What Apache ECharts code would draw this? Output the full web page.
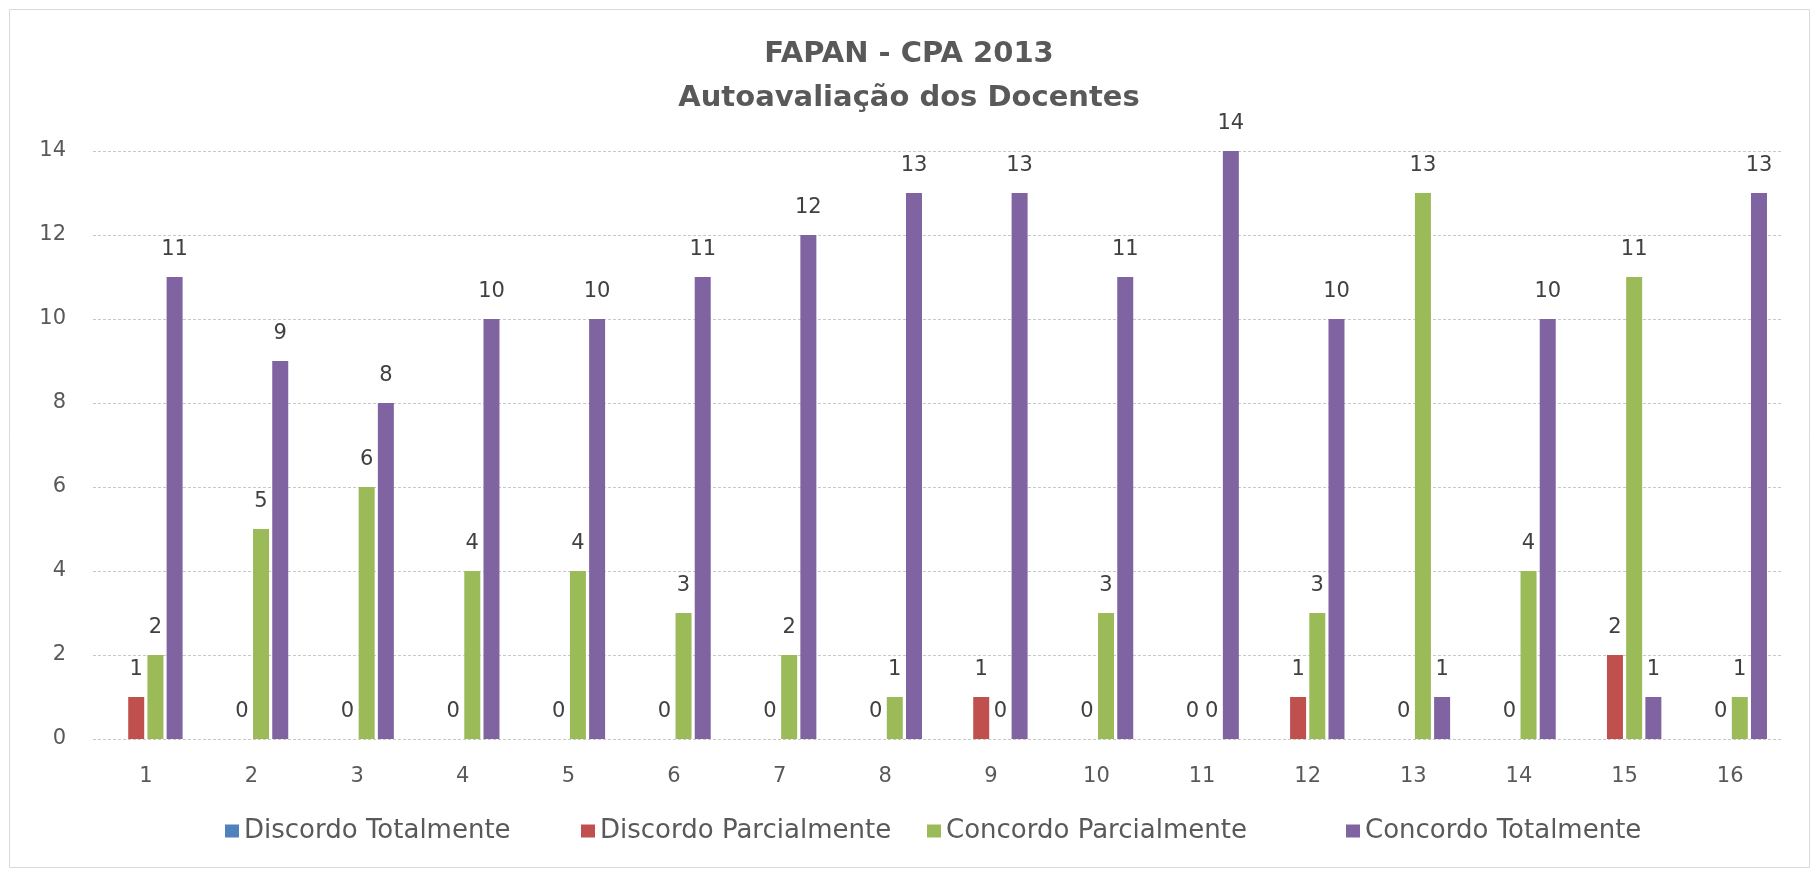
<!DOCTYPE html>
<html><head><meta charset="utf-8">
<script src="https://cdn.jsdelivr.net/npm/echarts@6/dist/echarts.min.js"></script>
<style>html,body{margin:0;padding:0;background:#fff}#c{width:1818px;height:869px}</style>
</head><body><div id="c"></div>
<script>
const categories = ['1','2','3','4','5','6','7','8','9','10','11','12','13','14','15','16'];
const seriesNames = ['Discordo Totalmente','Discordo Parcialmente','Concordo Parcialmente','Concordo Totalmente'];
const discordoTotalmente = [null,null,null,null,null,null,null,null,null,null,null,null,null,null,null,null];
const discordoParcialmente = [1,0,0,0,0,0,0,0,1,0,0,1,0,0,2,0];
const concordoParcialmente = [2,5,6,4,4,3,2,1,0,3,0,3,13,4,11,1];
const concordoTotalmente = [11,9,8,10,10,11,12,13,13,11,14,10,1,10,1,13];
const yTicks = {min:0, max:14, interval:2};
const titleLines = ['FAPAN - CPA 2013','Autoavaliação dos Docentes'];

const colors = ['#4F81BD','#C0504D','#9BBB59','#8064A2'];
const dataSets = [discordoTotalmente, discordoParcialmente, concordoParcialmente, concordoTotalmente];
const legendLeft = [220, 576, 922, 1341];
const font = 'DejaVu Sans';

const chart = echarts.init(document.getElementById('c'));
chart.setOption({
  animation:false,
  color: colors,
  textStyle:{fontFamily:font},
  title:{
    text: titleLines.join('\n'),
    left:'center', top:27,
    textStyle:{fontFamily:font, fontSize:29, fontWeight:'bold', color:'#595959', lineHeight:44}
  },
  graphic:[{type:'rect', shape:{x:9.5,y:9.5,width:1800,height:858}, style:{fill:null, stroke:'#d9d9d9', lineWidth:1}, silent:true}],
  legend: seriesNames.map((n,i)=>({
    top:813, left:legendLeft[i], itemWidth:14, itemHeight:13,
    icon:'rect',
    textStyle:{fontFamily:font, fontSize:26, color:'#595959'},
    data:[n]
  })),
  grid:{left:93, right:35, top:151, bottom:130, containLabel:false},
  xAxis:{
    type:'category', data:categories,
    axisLine:{show:false}, axisTick:{show:false},
    axisLabel:{fontFamily:font, fontSize:21, color:'#595959', margin:27}
  },
  yAxis:{
    type:'value', min:yTicks.min, max:yTicks.max, interval:yTicks.interval,
    axisLine:{show:false}, axisTick:{show:false},
    axisLabel:{fontFamily:font, fontSize:21, color:'#595959', margin:27},
    splitLine:{lineStyle:{color:'#c8c8c8', type:[3,2], width:1}}
  },
  series: dataSets.map((d,i)=>({
    name: seriesNames[i], type:'bar', data:d,
    barWidth:16, barGap:'20%',
    itemStyle:{color:colors[i]},
    label:{show:true, position:'top', distance:17, fontFamily:font, fontSize:21, color:'#404040'}
  }))
});
</script>
</body></html>
